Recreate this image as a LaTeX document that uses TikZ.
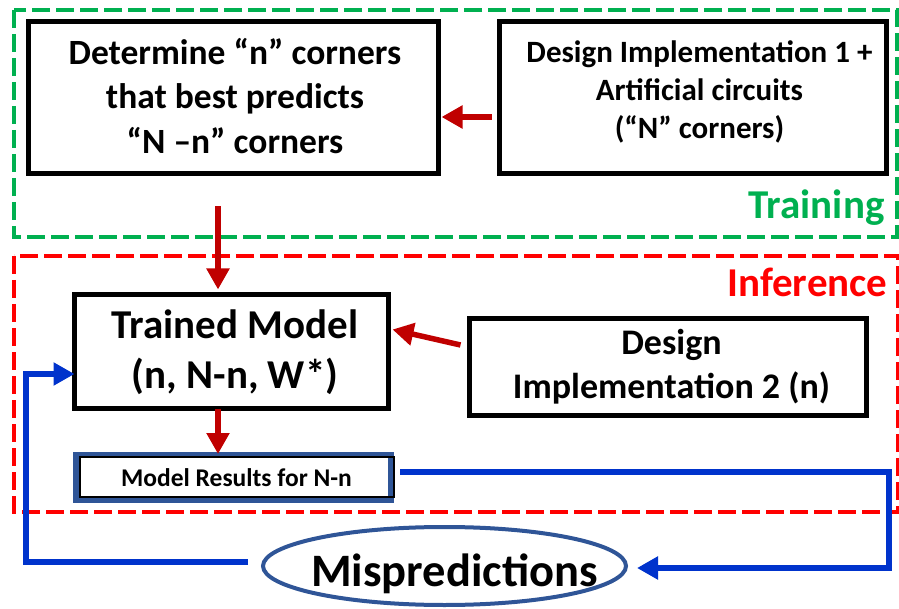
\documentclass[tikz,border=0pt]{standalone}
\usepackage{fontspec}
\setmainfont{Carlito}
\usetikzlibrary{arrows.meta,positioning,shapes.geometric}
\definecolor{dred}{HTML}{C00000}
\definecolor{bblue}{HTML}{0033CC}
\definecolor{frameblue}{HTML}{2F5597}
\definecolor{tgreen}{HTML}{00B050}
\definecolor{tred}{HTML}{FF0000}
% #1: twice the shift to the right, #2: twice the shift down
\newcommand{\offtext}[3]{\raisebox{0pt}[\dimexpr\height+#2\relax][\depth]{\hspace*{#1}#3}}
\tikzset{
  blk/.style={draw=black, line width=5.5pt, inner sep=0pt, outer sep=0pt, font=\bfseries},
  redarrow/.style={draw=dred, line width=5.5pt, -{Triangle[width=22pt,length=21pt]}},
  bluearrow/.style={draw=bblue, line width=5.5pt, -{Triangle[width=22pt,length=21pt]}},
  dashgreen/.style={draw=tgreen, line width=4.5pt, dash pattern=on 18pt off 6pt},
  dashred/.style={draw=tred, line width=4.5pt, dash pattern=on 18pt off 6pt},
}
\begin{document}
\begin{tikzpicture}[x=1pt,y=-1pt]
\useasboundingbox (0,0) rectangle (899,609);
% regions
\draw[dashgreen] (14,10) rectangle (897,237);
\draw[dashred] (14,256) rectangle (898,512);
\node[font=\bfseries\fontsize{41}{41}\selectfont, text=tgreen, anchor=east] (train) at (888,208) {Training};
\node[font=\bfseries\fontsize{41}{41}\selectfont, text=tred, anchor=east] (infer) at (891,282) {Inference};
% boxes
\node[blk, minimum width=410pt, minimum height=152pt, font=\bfseries\fontsize{35.5}{44.5}\selectfont] (det) at (233.5,97.5)
  {\offtext{3pt}{5pt}{\begin{tabular}{@{}c@{}}Determine “n” corners\\that best predicts\\“N –n” corners\end{tabular}}};
\node[blk, minimum width=387pt, minimum height=152pt, font=\bfseries\fontsize{31}{38}\selectfont] (di1) at (693,97.5)
  {\offtext{13pt}{-10pt}{\begin{tabular}{@{}c@{}}Design Implementation 1 +\\Artificial circuits\\(“N” corners)\end{tabular}}};
\node[blk, minimum width=314pt, minimum height=114pt, font=\bfseries\fontsize{41}{50}\selectfont] (tm) at (231.5,351.5)
  {\offtext{7pt}{4pt}{\begin{tabular}{@{}c@{}}Trained Model\\(n, N-n, W*)\end{tabular}}};
\node[blk, minimum width=397pt, minimum height=97pt, font=\bfseries\fontsize{36}{44}\selectfont] (di2) at (668,367)
  {\offtext{7pt}{2pt}{\begin{tabular}{@{}c@{}}Design\\Implementation 2 (n)\end{tabular}}};
\node[draw=frameblue, line width=6pt, minimum width=315pt, minimum height=45pt, inner sep=0pt, outer sep=0pt,
  font=\bfseries\fontsize{25.5}{25.5}\selectfont] (mr) at (233.5,477.5) {\offtext{6pt}{0pt}{Model Results for N-n}};
\draw[black, line width=1.2pt] ([xshift=4pt,yshift=-2pt]mr.north west) rectangle ([xshift=3pt,yshift=3pt]mr.south east);
\node[draw=frameblue, line width=4pt, ellipse, minimum width=363pt, minimum height=78pt, inner sep=0pt, outer sep=0pt,
  font=\bfseries\fontsize{46.5}{46.5}\selectfont] (mis) at (444.5,566)
  {\raisebox{-20pt}[0pt][0pt]{\makebox[0pt]{\hspace*{20pt}Mispredictions}}};
% red arrows
\draw[redarrow] ([xshift=-8pt,yshift=-19.5pt]di1.west) -- ([xshift=3pt,yshift=-19.5pt]det.east);
\draw[redarrow] ([xshift=-15.5pt,yshift=-33pt]det.south) -- ([xshift=-13.5pt,yshift=5pt]tm.north);
\draw[redarrow] ([xshift=-9pt,yshift=22pt]di2.west) -- ([xshift=4pt,yshift=22pt]tm.east);
\draw[redarrow] ([xshift=-13.5pt]tm.south) -- ([xshift=-15.5pt,yshift=1pt]mr.north);
% blue loops
\coordinate (r1) at (889,472);
\coordinate (l1) at (26,562);
\draw[bluearrow] ([xshift=9pt,yshift=5.5pt]mr.east) -- (r1) |- ([xshift=11pt,yshift=-2pt]mis.east);
\draw[bluearrow] ([xshift=-15pt,yshift=4pt]mis.west) -- (l1) |- ([yshift=-22.5pt]tm.west);
\end{tikzpicture}
\end{document}
